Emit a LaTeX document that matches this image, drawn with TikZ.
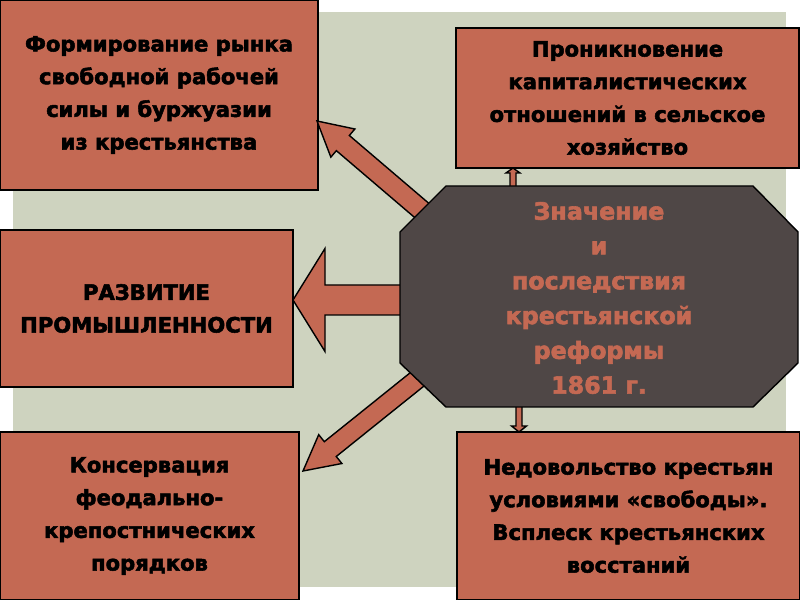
\documentclass[tikz,border=0pt]{standalone}
\usepackage{fontspec}
\setmainfont{DejaVu Sans}[BoldFeatures={FakeBold=2.5}]
\usetikzlibrary{calc}

\definecolor{brick}{RGB}{196,105,83}
\definecolor{sage}{RGB}{206,211,191}
\definecolor{slate}{RGB}{79,71,70}

% block arrow: tail, tip, shaft half width, head half width, head length
\newcommand\blockarrow[5]{%
  \coordinate (hb) at ($(#2)!#5!(#1)$);
  \draw[barr] ($(#1)!#3!90:(#2)$) -- ($(hb)!#3!90:(#2)$) -- ($(hb)!#4!90:(#2)$)
    -- (#2) -- ($(hb)!#4!-90:(#2)$) -- ($(hb)!#3!-90:(#2)$) -- ($(#1)!#3!-90:(#2)$) -- cycle;}

\begin{document}
\begin{tikzpicture}[
  x=0.2mm,y=-0.2mm,
  n/.style={draw=black,fill=brick,line width=0.8pt,inner sep=0pt,align=center,font=\bfseries\fontsize{12}{18.6}\selectfont},
  hub/.style={draw=black,fill=slate,line width=0.8pt,line join=miter},
  hubtxt/.style={inner sep=0pt,align=center,text=brick,font=\bfseries\fontsize{13.5}{19.8}\selectfont},
  barr/.style={draw=black,fill=brick,line width=0.8pt,line join=miter}
]
\useasboundingbox (0,0) rectangle (800,600);
\fill[sage] (13,12) rectangle (786,587);

% Boxes
\node[n,minimum width=63.6mm,minimum height=38mm] (frm) at (159,95) {Формирование рынка\\свободной рабочей\\силы и буржуазии\\из крестьянства};
\node[n,minimum width=68.6mm,minimum height=28mm] (cap) at (627.5,98) {Проникновение\\капиталистических\\отношений в сельское\\хозяйство};
\node[n,minimum width=58.6mm,minimum height=31.4mm] (ind) at (146.5,308.5) {РАЗВИТИЕ\\ПРОМЫШЛЕННОСТИ};
\node[n,minimum width=59.8mm,minimum height=33.6mm] (cons) at (149.5,516) {Консервация\\феодально-\\крепостнических\\порядков};
\node[n,minimum width=68.6mm,minimum height=33.6mm] (disc) at (628.5,516) {Недовольство крестьян\\условиями «свободы».\\Всплеск крестьянских\\восстаний};

% Arrows (tails hidden under the centre)
\coordinate (a1) at (440,226); \coordinate (p1) at (317,121);
\coordinate (a2) at (440,300); \coordinate (p2) at (293,300);
\coordinate (a3) at (440,361); \coordinate (p3) at (303,471);
\coordinate (a4) at (513,200); \coordinate (p4) at (513,168);
\coordinate (a5) at (519,395); \coordinate (p5) at (519,432);
\blockarrow{a1}{p1}{2mm}{3.7mm}{6.8mm}
\blockarrow{a2}{p2}{3mm}{10.3mm}{6.4mm}
\blockarrow{a3}{p3}{1.9mm}{3.7mm}{7mm}
\blockarrow{a4}{p4}{0.6mm}{1.4mm}{1mm}
\blockarrow{a5}{p5}{0.6mm}{1.5mm}{1.2mm}

% Centre
\draw[hub] (400,232) -- (446,186) -- (753,186) -- (798,232) -- (798,363) -- (753,407) -- (446,407) -- (400,363) -- cycle;
\node[hubtxt] (ref) at (599,298) {Значение\\и\\последствия\\крестьянской\\реформы\\1861 г.};
\end{tikzpicture}
\end{document}
